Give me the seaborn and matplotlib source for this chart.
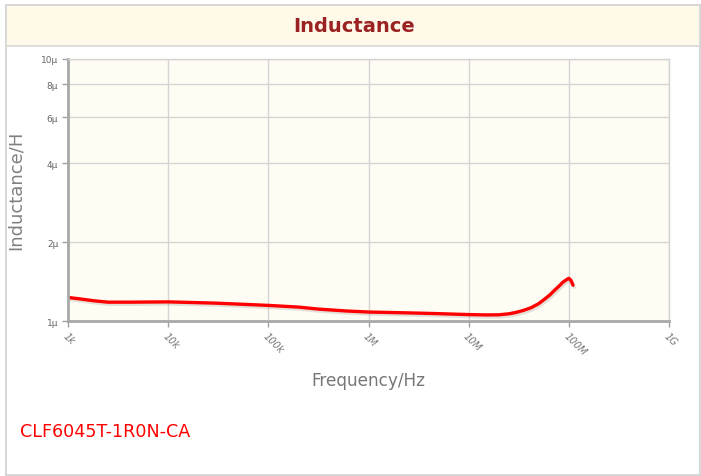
import matplotlib
matplotlib.use("Agg")
import matplotlib.pyplot as plt
import matplotlib.patheffects as pe
from matplotlib.patches import Rectangle
from matplotlib.ticker import FixedLocator, NullLocator
import seaborn as sns
import pandas as pd

# data (frequency in Hz, inductance in uH)
freq = [1e3, 1.3e3, 1.8e3, 2.5e3, 4e3, 1e4, 3e4, 1e5, 2e5, 3.2e5, 6e5, 1e6, 2.5e6,
        4.9e6, 1e7, 1.5e7, 2e7, 2.5e7, 2.9e7, 3.5e7, 4.2e7, 5e7, 5.7e7, 6.5e7,
        7.2e7, 8e7, 8.7e7, 9.4e7, 1e8, 1.05e8, 1.1e8]
induct = [1.23, 1.215, 1.195, 1.18, 1.18, 1.183, 1.17, 1.147, 1.13, 1.11, 1.092,
          1.082, 1.074, 1.067, 1.058, 1.055, 1.056, 1.065, 1.076, 1.097, 1.124,
          1.165, 1.21, 1.26, 1.31, 1.36, 1.405, 1.435, 1.455, 1.43, 1.37]

x_ticks = [1e3, 1e4, 1e5, 1e6, 1e7, 1e8, 1e9]
x_labels = ["1k", "10k", "100k", "1M", "10M", "100M", "1G"]
y_ticks = [1, 2, 4, 6, 8, 10]
y_labels = ["1µ", "2µ", "4µ", "6µ", "8µ", "10µ"]

df = pd.DataFrame({"Frequency": freq, "Inductance": induct})

sns.set_theme(style="white")
plt.rcParams["font.family"] = ["DejaVu Sans"]

W, H = 701, 477
fig = plt.figure(figsize=(W / 100, H / 100), dpi=100)

# outer box and header band
fig.patches.append(Rectangle((6 / W, 1 - 476 / H), 694 / W, 470 / H, transform=fig.transFigure,
                             facecolor="white", edgecolor="#d0d0d0", lw=1.2, zorder=-2))
fig.patches.append(Rectangle((6 / W, 1 - 47 / H), 694 / W, 41 / H, transform=fig.transFigure,
                             facecolor="#fff9ea", edgecolor="#d6d6d6", lw=1.2, zorder=-1))
fig.text(354 / W, 1 - 27 / H, "Inductance", ha="center", va="center",
         fontsize=14, fontweight="bold", color="#9a2222")

ax = fig.add_axes([68 / W, 1 - 322 / H, 601 / W, 262 / H])
ax.set_zorder(3)
ax.set_facecolor("#fffcf3")

sns.lineplot(data=df, x="Frequency", y="Inductance", ax=ax, color="#ff0000", lw=2.4,
             path_effects=[pe.SimpleLineShadow(offset=(1, -1.5), alpha=0.12), pe.Normal()])

ax.set_xscale("log")
ax.set_yscale("log")
ax.set_xlim(1e3, 1e9)
ax.set_ylim(1, 10)

ax.xaxis.set_major_locator(FixedLocator(x_ticks))
ax.xaxis.set_minor_locator(NullLocator())
ax.set_xticklabels(x_labels, rotation=-45, ha="left", va="top", rotation_mode="anchor",
                   fontsize=7, color="#777777", fontstyle="italic")
ax.yaxis.set_major_locator(FixedLocator(y_ticks))
ax.yaxis.set_minor_locator(NullLocator())
ax.set_yticklabels(y_labels, fontsize=6.5, color="#666666")

ax.grid(True, color="#d4d4d4", lw=1)
ax.tick_params(axis="both", length=4, width=1, color="#a0a0a0", pad=3, left=True, bottom=True)

for side in ["left", "bottom"]:
    ax.spines[side].set_color("#a8a8a8")
    ax.spines[side].set_linewidth(2)
for side in ["top", "right"]:
    ax.spines[side].set_color("#d4d4d4")
    ax.spines[side].set_linewidth(1)

ax.set_xlabel("")
ax.set_ylabel("")
fig.text(16 / W, 1 - 190 / H, "Inductance/H", rotation=90, ha="center", va="center",
         fontsize=13, color="#808080")
fig.text(368 / W, 1 - 381 / H, "Frequency/Hz", ha="center", va="center",
         fontsize=12.2, color="#777777")
fig.text(20 / W, 1 - 432 / H, "CLF6045T-1R0N-CA", ha="left", va="center",
         fontsize=12.6, color="#ff0000")

fig.savefig("out.png", dpi=100)
